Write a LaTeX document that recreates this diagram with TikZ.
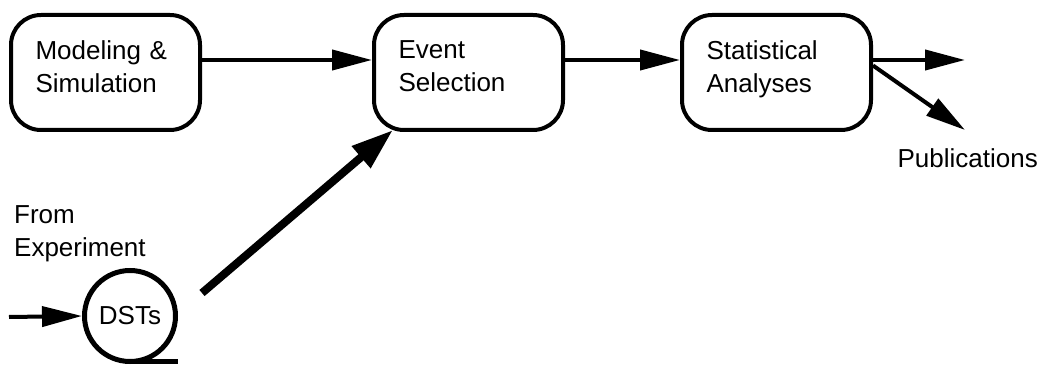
\documentclass[tikz,border=0pt]{standalone}
\usepackage{fontspec}
\setmainfont{Liberation Sans}
\usetikzlibrary{arrows.meta}

\begin{document}
\begin{tikzpicture}[x=1pt,y=-1pt,font=\fontsize{26}{33}\selectfont]

      \useasboundingbox (0,0) rectangle (1041,366);

      \begin{scope}[every node/.style={draw,rectangle,rounded corners=30pt,line width=4pt,
          minimum width=189pt,minimum height=115pt,text width=140pt,align=left,text depth=45pt}]
        \node (mod) at (105.5,72.5) {Modeling \&\\Simulation};
        \node (evt) at (468.5,72.5) {Event\\Selection};
        \node (ana) at (776.5,72.5) {Statistical\\Analyses};
      \end{scope}

      \node[draw,circle,line width=5pt,minimum size=91pt,inner sep=0pt] (dst) at (130,316) {DSTs};
      \draw[line width=5pt] ([yshift=2.5pt]dst.south) -- ++(48,0);

      \node[anchor=north west,inner sep=0pt,align=left] (from) at (14,205) {From\\Experiment};
      \node[anchor=base east,inner sep=0pt] (pubtxt) at (1038,168) {Publications};

      \coordinate (src) at (9,317);
      \coordinate (out) at (965,60);
      \coordinate (pub) at (965,130);

      \begin{scope}[every edge/.style={draw,line width=4pt,-{Triangle[length=40pt,width=20pt]}}]
        \path ([yshift=12.5pt]mod.east) edge ([yshift=12.5pt]evt.west);
        \path ([yshift=12.5pt]evt.east) edge ([yshift=12.5pt]ana.west);
        \path ([yshift=12.5pt]ana.east) edge (out);
        \path ([yshift=7pt]ana.east) edge (pub);
        \path (src) edge (dst.west);
      \end{scope}

      \begin{scope}[every edge/.style={draw,line width=8pt,-{Triangle[length=42pt,width=27pt]}}]
        \path ([xshift=24pt,yshift=23pt]dst.east) edge ([xshift=21pt,yshift=2pt]evt.south west);
      \end{scope}

    \end{tikzpicture}
\end{document}
